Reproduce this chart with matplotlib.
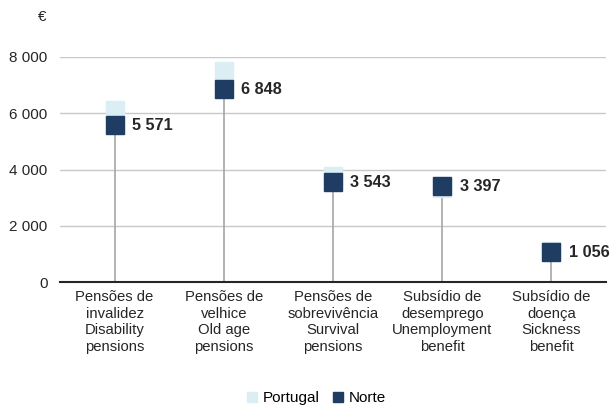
import numpy as np
import matplotlib.pyplot as plt
from matplotlib.lines import Line2D

plt.rcParams['font.family'] = ['Liberation Sans', 'DejaVu Sans']

# Data
categories = ['Pensões de\ninvalidez\nDisability\npensions',
              'Pensões de\nvelhice\nOld age\npensions',
              'Pensões de\nsobrevivência\nSurvival\npensions',
              'Subsídio de\ndesemprego\nUnemployment\nbenefit',
              'Subsídio de\ndoença\nSickness\nbenefit']
portugal = [6130, 7500, 3760, 3330, 1100]
norte = [5571, 6848, 3543, 3397, 1056]
y_ticks = [0, 2000, 4000, 6000, 8000]

dark = '#1f3d63'
light = '#daeef3'

fig = plt.figure(figsize=(6.1, 4.07), dpi=100)
ax = fig.add_axes([60 / 610, 1 - 282 / 407, 546 / 610, 225 / 407])

x = np.arange(len(categories))

# stems from zero up to the Norte value
ax.vlines(x, 0, norte, color='#a6a6a6', lw=1.2, zorder=2)
ax.plot(x, portugal, 's', ms=13, color=light, zorder=3, label='Portugal')
ax.plot(x, norte, 's', ms=13, color=dark, zorder=4, label='Norte')

for xi, v in zip(x, norte):
    ax.annotate('{:,}'.format(v).replace(',', ' '), xy=(xi, v), xytext=(12.5, 0),
                textcoords='offset points', ha='left', va='center',
                fontsize=11.7, fontweight='bold', color='#262626')

ax.set_xlim(-0.5, 4.5)
ax.set_ylim(0, 8000)
ax.set_yticks(y_ticks)
ax.set_yticklabels(['{:,}'.format(t).replace(',', ' ') for t in y_ticks],
                   fontsize=11, color='#262626')
ax.set_xticks(x)
ax.set_xticklabels(categories, fontsize=10.7, color='#262626', linespacing=1.22)
ax.tick_params(axis='x', length=0, pad=6)
ax.tick_params(axis='y', length=0, pad=9)

ax.grid(axis='y', color='#c8c8c8', lw=1)
ax.set_axisbelow(True)
for s in ['top', 'right', 'left']:
    ax.spines[s].set_visible(False)
ax.spines['bottom'].set_color('#262626')
ax.spines['bottom'].set_linewidth(1.5)
ax.spines['bottom'].set_zorder(5)

fig.text(42 / 610, 1 - 17 / 407, '€', fontsize=11, ha='center', va='center', color='#262626')

handles = [Line2D([], [], marker='s', ls='none', ms=7, color=light),
           Line2D([], [], marker='s', ls='none', ms=7, color=dark)]
fig.legend(handles, ['Portugal', 'Norte'], loc='center', bbox_to_anchor=(316 / 610, 1 - 398 / 407),
           ncol=2, frameon=False, fontsize=11, handletextpad=0.3, columnspacing=0.8,
           handlelength=0.8)

fig.savefig('out.png', dpi=100)
